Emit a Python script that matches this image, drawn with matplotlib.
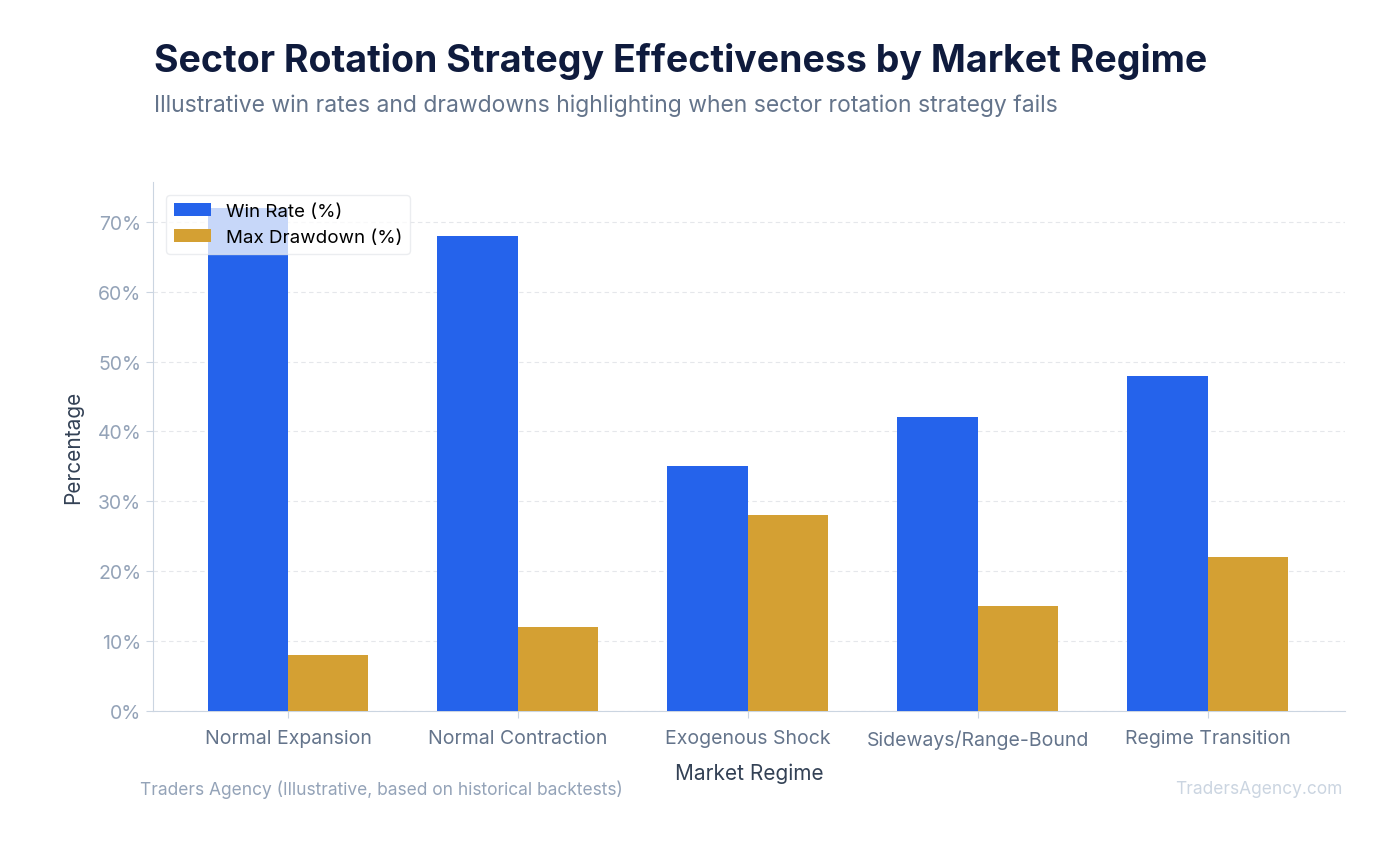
import matplotlib
matplotlib.use("Agg")
import matplotlib.pyplot as plt
import numpy as np

plt.rcParams['font.family'] = ['Inter', 'DejaVu Sans']

categories = ["Normal Expansion", "Normal Contraction", "Exogenous Shock", "Sideways/Range-Bound", "Regime Transition"]
win_rate = [72, 68, 35, 42, 48]
max_drawdown = [8, 12, 28, 15, 22]
yticks = [0, 10, 20, 30, 40, 50, 60, 70]

fig = plt.figure(figsize=(13.88, 8.45), dpi=100)
ax = fig.add_axes([153/1388, 1-712/845, (1345-153)/1388, (712-183)/845])

x = np.arange(len(categories))
w = 0.35
ax.bar(x - w/2, win_rate, w, color='#2563eb', label='Win Rate (%)', zorder=3)
ax.bar(x + w/2, max_drawdown, w, color='#d4a033', label='Max Drawdown (%)', zorder=3)

ax.set_xlim(-0.587, 4.596)
ax.set_ylim(0, 75.7)
ax.set_yticks(yticks)
ax.set_yticklabels([f"{v}%" for v in yticks])
ax.set_xticks(x)
ax.set_xticklabels(categories)
ax.tick_params(axis='y', colors='#94a3b8', labelsize=14, length=5, color='#cbd5e1')
ax.tick_params(axis='x', colors='#64748b', labelsize=14, length=5, color='#cbd5e1', pad=8)
ax.grid(axis='y', color='#e5e7eb', linestyle=(0, (4, 3)), linewidth=0.8, zorder=0)
for s in ['top', 'right']:
    ax.spines[s].set_visible(False)
for s in ['left', 'bottom']:
    ax.spines[s].set_color('#cbd5e1')
ax.set_xlabel("Market Regime", fontsize=15, color='#334155', labelpad=10)
ax.set_ylabel("Percentage", fontsize=15, color='#334155', labelpad=10)

leg = ax.legend(loc='upper left', fontsize=13.5, frameon=True, framealpha=0.75,
                edgecolor='#e5e7eb', fancybox=True, borderaxespad=0.7)

fig.text(154/1388, 1-62/845, "Sector Rotation Strategy Effectiveness by Market Regime",
         fontsize=27, fontweight='bold', color='#0f1b3d', va='center')
fig.text(154/1388, 1-106/845, "Illustrative win rates and drawdowns highlighting when sector rotation strategy fails",
         fontsize=16.5, color='#64748b', va='center')
fig.text(140/1388, 1-790/845, "Traders Agency (Illustrative, based on historical backtests)",
         fontsize=12.5, color='#94a3b8', va='center')
fig.text(1343/1388, 1-790/845, "TradersAgency.com", fontsize=12.5, color='#cbd5e1', va='center', ha='right')

fig.savefig("out.png", dpi=100, facecolor='white')
